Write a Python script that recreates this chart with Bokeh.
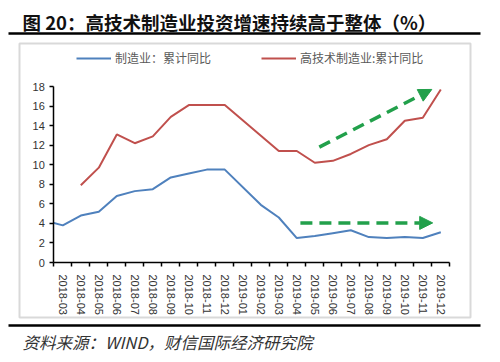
import math
from bokeh.plotting import figure
from bokeh.models import (Range1d, LinearAxis, FixedTicker, Legend, LegendItem,
                          Arrow, NormalHead)
from bokeh.core.properties import value
from bokeh.embed import file_html
from bokeh.resources import INLINE

# ---------------- data ----------------
months = ["2018-03", "2018-04", "2018-05", "2018-06", "2018-07", "2018-08",
          "2018-09", "2018-10", "2018-11", "2018-12", "2019-01", "2019-02",
          "2019-03", "2019-04", "2019-05", "2019-06", "2019-07", "2019-08",
          "2019-09", "2019-10", "2019-11", "2019-12"]
# 制造业：累计同比 (value for 2018-02, just before the axis start)
mfg_prev = 4.3
mfg = [3.8, 4.8, 5.2, 6.8, 7.3, 7.5, 8.7, 9.1, 9.5, 9.5, None, 5.9,
       4.6, 2.5, 2.7, 3.0, 3.3, 2.6, 2.5, 2.6, 2.5, 3.1]
# 高技术制造业：累计同比
hitech = [None, 7.9, 9.7, 13.1, 12.2, 12.9, 14.9, 16.1, 16.1, 16.1, None, None,
          11.4, 11.4, 10.2, 10.4, 11.1, 12.0, 12.6, 14.5, 14.8, 17.7]
y_ticks = [0, 2, 4, 6, 8, 10, 12, 14, 16, 18]

title_text = "图 20：高技术制造业投资增速持续高于整体（%）"
source_text = "资料来源：WIND，财信国际经济研究院"
name_mfg = "制造业：累计同比"
name_hitech = "高技术制造业:累计同比"

# ---------------- layout helpers (page pixels -> data coords) ----------------
W, H = 484, 354
OFF = 0
X0PX, XSC = 53.3, 18.0          # page px of x=0, px per category
Y0PX, YSC = 262.0, 176.0 / 18   # page px (from top) of y=0, px per unit


def px2x(page_x):
    return (page_x - X0PX) / XSC


def py2y(page_y):
    return (Y0PX - page_y) / YSC


p = figure(width=W, height=H, output_backend="svg", toolbar_location=None,
           x_axis_type=None, y_axis_type=None, min_border=0,
           x_range=Range1d(px2x(OFF), px2x(OFF + W)),
           y_range=Range1d(py2y(OFF + H), py2y(OFF)))
p.outline_line_color = None
p.background_fill_color = "white"
p.border_fill_color = "white"

CJK = "Noto Sans CJK SC"

# title + rules + box
p.text(x=[px2x(22)], y=[py2y(21)], text=[title_text], text_font=value(CJK),
       text_font_size=value("18.5px"), text_font_style="bold", text_color="#111111",
       text_align="left", text_baseline="middle")
p.segment(x0=[px2x(8), px2x(8)], y0=[py2y(33), py2y(325)],
          x1=[px2x(480), px2x(480)], y1=[py2y(33), py2y(325)],
          line_color="black", line_width=2.5)
p.quad(left=[px2x(19)], right=[px2x(470)], top=[py2y(43)], bottom=[py2y(317)],
       fill_color=None, line_color="#d9d9d9", line_width=2)
p.text(x=[px2x(22)], y=[py2y(341)], text=[source_text], text_font=value(CJK),
       text_font_size=value("16.5px"), text_font_style="italic", text_color="#333333",
       text_align="left", text_baseline="middle")

# series
xs_m = [-0.5] + [i + 0.5 for i, v in enumerate(mfg) if v is not None]
ys_m = [mfg_prev] + [v for v in mfg if v is not None]
xs_h = [i + 0.5 for i, v in enumerate(hitech) if v is not None]
ys_h = [v for v in hitech if v is not None]

r_m = p.line(xs_m, ys_m, line_color="#4F81BD", line_width=2)
r_h = p.line(xs_h, ys_h, line_color="#C0504D", line_width=2)

# hide the part of the blue line left of the value axis
p.quad(left=[px2x(30)], right=[0], top=[5.5], bottom=[2.5],
       fill_color="white", line_color=None)

# axes
yaxis = LinearAxis(fixed_location=0, bounds=(0, 18),
                   ticker=FixedTicker(ticks=y_ticks))
yaxis.axis_line_color = "black"
yaxis.axis_line_width = 1.5
yaxis.major_tick_line_color = "black"
yaxis.major_tick_line_width = 1.5
yaxis.major_tick_out = 4
yaxis.major_tick_in = 0
yaxis.minor_tick_line_color = None
yaxis.major_label_standoff = 5
yaxis.major_label_text_font = "Liberation Sans"
yaxis.major_label_text_font_size = "11px"
yaxis.major_label_text_color = "#333333"
p.add_layout(yaxis, "left")

xticks_axis = LinearAxis(fixed_location=0, bounds=(0, len(months)),
                         ticker=FixedTicker(ticks=list(range(len(months) + 1))),
                         major_label_overrides={i: "" for i in range(len(months) + 1)})
xticks_axis.axis_line_color = "black"
xticks_axis.axis_line_width = 1.5
xticks_axis.major_tick_line_color = "black"
xticks_axis.major_tick_line_width = 1.5
xticks_axis.major_tick_out = 4
xticks_axis.major_tick_in = 0
xticks_axis.minor_tick_line_color = None
p.add_layout(xticks_axis, "below")

centers = [i + 0.5 for i in range(len(months))]
xlab_axis = LinearAxis(fixed_location=0, ticker=FixedTicker(ticks=centers),
                       major_label_overrides={c: m for c, m in zip(centers, months)})
xlab_axis.axis_line_color = None
xlab_axis.major_tick_line_color = None
xlab_axis.minor_tick_line_color = None
xlab_axis.major_label_orientation = -math.pi / 2
xlab_axis.major_label_standoff = 6
xlab_axis.major_label_text_font = "Liberation Sans"
xlab_axis.major_label_text_font_size = "11px"
xlab_axis.major_label_text_color = "#333333"
p.add_layout(xlab_axis, "below")

# legend
legend = Legend(items=[LegendItem(label=name_mfg, renderers=[r_m]),
                       LegendItem(label=name_hitech, renderers=[r_h])],
                orientation="horizontal", location=(76, H - 66),
                glyph_width=35, glyph_height=12, label_standoff=4, spacing=50,
                padding=0, margin=0, border_line_color=None,
                background_fill_alpha=0, label_text_font=CJK,
                label_text_font_size="12px", label_text_color="#595959",
                label_height=12)
p.add_layout(legend, "center")

# trend arrows
GREEN = "#22A04B"
arrow_up = dict(x_start=14.75, y_start=11.8, x_end=21.0, y_end=17.7)
arrow_flat = dict(x_start=13.7, y_start=4.05, x_end=21.05, y_end=4.05)
for a in (arrow_up, arrow_flat):
    p.add_layout(Arrow(end=NormalHead(size=13, fill_color=GREEN, line_color=GREEN),
                       line_color=GREEN, line_width=3.5, line_dash="12 7", **a))

open("out.html", "w").write(file_html(p, INLINE))
